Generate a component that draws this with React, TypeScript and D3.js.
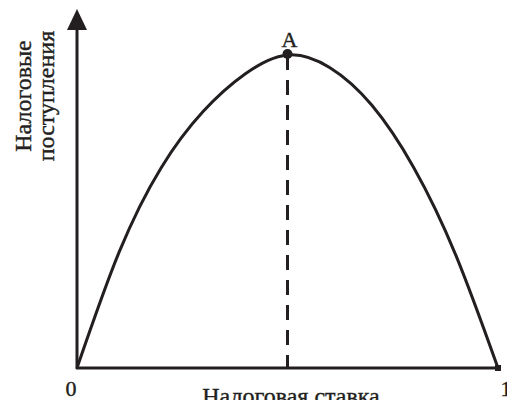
import * as d3 from "d3";
import { useEffect, useRef } from "react";

// Laffer curve: tax rate (0..1) vs tax revenue (share of max)
const rates = [0, 0.1, 0.2, 0.3, 0.4, 0.5, 0.6, 0.7, 0.8, 0.9, 1];
const revenue = [0, 0.37, 0.64, 0.82, 0.94, 1, 0.96, 0.84, 0.64, 0.36, 0];
const peakRate = 0.5;
const xTickLabels = ["0", "1"];
const yLabelLines = ["Налоговые", "поступления"];
const xLabel = "Налоговая ставка";
const peakLabel = "A";

const W = 507;
const H = 400;
const ink = "#231f20";
const font = "'Liberation Serif', 'DejaVu Serif', serif";

export default function App() {
  const ref = useRef<SVGSVGElement>(null);

  useEffect(() => {
    const svg = d3.select(ref.current);
    svg.selectAll("*").remove();

    const x = d3.scaleLinear().domain([0, 1]).range([77, 498]);
    const y = d3.scaleLinear().domain([0, 1]).range([368, 55]);
    const axisTop = 26;

    const g = svg.append("g");

    // y axis with arrow
    g.append("line")
      .attr("x1", x(0)).attr("x2", x(0))
      .attr("y1", y(0) + 1).attr("y2", axisTop)
      .attr("stroke", ink).attr("stroke-width", 3);
    g.append("path")
      .attr("d", `M${x(0)},9 L${x(0) - 10},${axisTop + 4} L${x(0) + 10},${axisTop + 4} Z`)
      .attr("fill", ink);

    // x axis
    g.append("line")
      .attr("x1", x(0) - 1).attr("x2", x(1))
      .attr("y1", y(0)).attr("y2", y(0))
      .attr("stroke", ink).attr("stroke-width", 3);
    g.append("rect")
      .attr("x", x(1) - 3).attr("y", y(0) - 3)
      .attr("width", 6).attr("height", 6)
      .attr("fill", ink);

    // dashed drop line from peak
    g.append("line")
      .attr("x1", x(peakRate)).attr("x2", x(peakRate))
      .attr("y1", y(1)).attr("y2", y(0))
      .attr("stroke", ink).attr("stroke-width", 3)
      .attr("stroke-dasharray", "15 10");

    // curve
    const pts: [number, number][] = rates.map((r, i) => [r, revenue[i]]);
    const line = d3
      .line<[number, number]>()
      .x((d) => x(d[0]))
      .y((d) => y(d[1]))
      .curve(d3.curveNatural);
    g.append("path")
      .datum(pts)
      .attr("d", line)
      .attr("fill", "none")
      .attr("stroke", ink)
      .attr("stroke-width", 3);

    // peak point
    g.append("circle")
      .attr("cx", x(peakRate)).attr("cy", y(1) - 1)
      .attr("r", 5).attr("fill", ink);

    const txt = (sel: any, size: number) =>
      sel
        .attr("font-family", font)
        .attr("font-size", size)
        .attr("fill", ink)
        .attr("stroke", ink)
        .attr("stroke-width", 0.4);

    txt(
      g.append("text")
        .attr("x", x(peakRate) + 2).attr("y", y(1) - 8)
        .attr("text-anchor", "middle")
        .text(peakLabel),
      22
    );

    // tick labels
    txt(
      g.selectAll("text.tick")
        .data(xTickLabels)
        .join("text")
        .attr("class", "tick")
        .attr("x", (d: string, i: number) => x(i) + (i === 0 ? -6 : 8))
        .attr("y", 396)
        .attr("text-anchor", "middle")
        .text((d: string) => d),
      22
    );

    // x label
    txt(
      g.append("text")
        .attr("x", 291).attr("y", 404)
        .attr("text-anchor", "middle")
        .text(xLabel),
      24
    );

    // y label
    txt(
      g.selectAll("text.ylab")
        .data(yLabelLines)
        .join("text")
        .attr("class", "ylab")
        .attr("transform", (d: string, i: number) => `translate(${i === 0 ? 31 : 54},96) rotate(-90)`)
        .attr("text-anchor", "middle")
        .text((d: string) => d),
      24
    );
  }, []);

  return (
    <svg
      ref={ref}
      width={W}
      height={H}
      style={{ position: "absolute", left: 0, top: 0, background: "#fff" }}
    />
  );
}
